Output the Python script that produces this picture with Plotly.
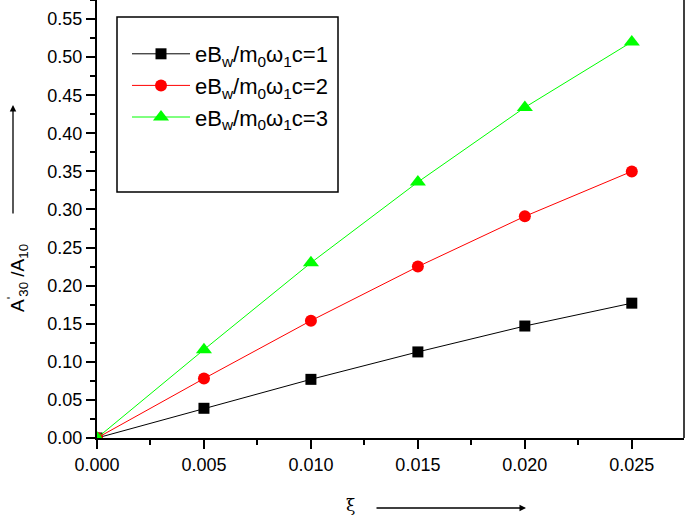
import plotly.graph_objects as go

xi = [0.0, 0.005, 0.010, 0.015, 0.020, 0.025]
ratio_c1 = [0.0, 0.039, 0.077, 0.113, 0.147, 0.177]
ratio_c2 = [0.0, 0.078, 0.154, 0.225, 0.291, 0.350]
ratio_c3 = [0.0, 0.116, 0.230, 0.336, 0.434, 0.520]
series_names = ["eB<sub>w</sub>/m<sub>0</sub>ω<sub>1</sub>c=1",
                "eB<sub>w</sub>/m<sub>0</sub>ω<sub>1</sub>c=2",
                "eB<sub>w</sub>/m<sub>0</sub>ω<sub>1</sub>c=3"]
x_ticks = [0.0, 0.005, 0.010, 0.015, 0.020, 0.025]
x_ticklabels = ["0.000", "0.005", "0.010", "0.015", "0.020", "0.025"]
y_ticks = [0.0, 0.05, 0.10, 0.15, 0.20, 0.25, 0.30, 0.35, 0.40, 0.45, 0.50, 0.55]
y_ticklabels = ["0.00", "0.05", "0.10", "0.15", "0.20", "0.25", "0.30", "0.35", "0.40", "0.45", "0.50", "0.55"]

W, H = 685, 516
L, R, T, B = 97, 1, 0, 78
pw, ph = W - L - R, H - T - B

def px(xp):
    return (xp - L) / pw

def py(yp):
    return (H - B - yp) / ph

fig = go.Figure()
styles = [("black", "square", 11), ("#ff0000", "circle", 12), ("#00ff00", "triangle-up", 14)]
for vals, name, (col, sym, sz) in zip([ratio_c1, ratio_c2, ratio_c3], series_names, styles):
    fig.add_trace(go.Scatter(x=xi, y=vals, name=name, mode="lines+markers",
                             line=dict(color=col, width=1),
                             marker=dict(color=col, symbol=sym, size=sz)))

axis_font = dict(family="Liberation Sans, Arial, sans-serif", size=18, color="black")
fig.update_layout(
    width=W, height=H,
    margin=dict(l=L, r=R, t=T, b=B),
    plot_bgcolor="white", paper_bgcolor="white",
    showlegend=True,
    legend=dict(x=px(127), y=py(33), xanchor="left", yanchor="top",
                bgcolor="rgba(0,0,0,0)", borderwidth=0, itemwidth=58,
                font=dict(family="Liberation Sans, Arial, sans-serif", size=22, color="black")),
    xaxis=dict(range=[0, 0.02744], tickvals=x_ticks, ticktext=x_ticklabels,
               ticks="outside", ticklen=9, tickwidth=1.5, tickcolor="black",
               showline=True, linecolor="black", linewidth=2, showgrid=False, zeroline=False,
               tickfont=axis_font, automargin=False,
               minor=dict(dtick=0.0025, tick0=0, ticks="outside", ticklen=5, tickwidth=1.5, tickcolor="black", showgrid=False)),
    yaxis=dict(range=[0, 0.575], tickvals=y_ticks, ticktext=y_ticklabels,
               ticks="outside", ticklen=9, tickwidth=1.5, tickcolor="black",
               showline=True, linecolor="black", linewidth=2, showgrid=False, zeroline=False,
               tickfont=axis_font, automargin=False,
               minor=dict(dtick=0.025, tick0=0, ticks="outside", ticklen=5, tickwidth=1.5, tickcolor="black", showgrid=False)),
)

# right frame line
fig.add_shape(type="line", xref="paper", yref="paper", x0=1, x1=1, y0=0, y1=1,
              line=dict(color="black", width=1.5))
# legend box
fig.add_shape(type="rect", xref="paper", yref="paper",
              x0=px(117), x1=px(338), y0=py(192), y1=py(17),
              line=dict(color="black", width=1.5), fillcolor="rgba(0,0,0,0)")

# y title
fig.add_annotation(text="A<sup>'</sup><sub>30</sub> /A<sub>10</sub>", xref="paper", yref="paper",
                   x=px(17), y=py(278), xanchor="center", yanchor="middle",
                   textangle=-90, showarrow=False,
                   font=dict(family="Liberation Sans, Arial, sans-serif", size=19, color="black"))
# y arrow
fig.add_annotation(text="", xref="paper", yref="paper", x=px(13), y=py(105),
                   ax=0, ay=110, showarrow=True, arrowhead=2, arrowsize=1, arrowwidth=1.3,
                   arrowcolor="black")
# x title
fig.add_annotation(text="ξ", xref="paper", yref="paper", x=px(350), y=py(505),
                   xanchor="center", yanchor="middle", showarrow=False,
                   font=dict(family="DejaVu Serif, serif", size=17, color="black"))
# x arrow
fig.add_annotation(text="", xref="paper", yref="paper", x=px(526), y=py(508),
                   ax=-151, ay=0, showarrow=True, arrowhead=2, arrowsize=1, arrowwidth=1.3,
                   arrowcolor="black")

fig.write_html("out.html", config={"displayModeBar": False},
               post_script="document.body.style.margin='0';")
